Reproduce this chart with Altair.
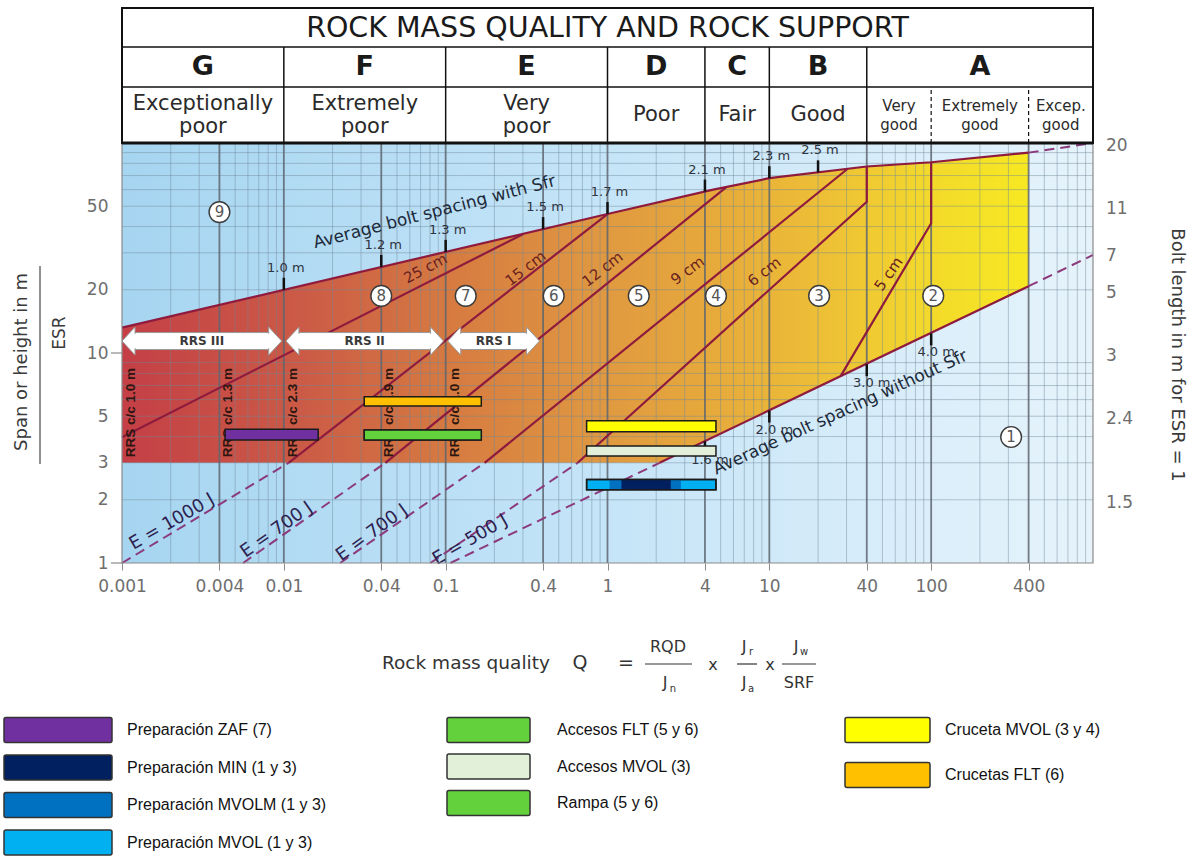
import math
import altair as alt
import pandas as pd

# Q-system rock support chart: span / ESR against rock mass quality Q,
# with the excavation types of the mine drawn as bars on top.

FONT = "DejaVu Sans"
LEGEND_FONT = "Liberation Sans Narrow, Liberation Sans, Arial, sans-serif"

# ---------------- data ----------------
# rock mass classes along Q
class_letters = ["G", "F", "E", "D", "C", "B", "A"]
class_from = [0.001, 0.01, 0.1, 1, 4, 10, 40]
class_to = [0.01, 0.1, 1, 4, 10, 40, 1000]
class_desc = ["Exceptionally\npoor", "Extremely\npoor", "Very\npoor", "Poor", "Fair", "Good"]
a_desc = ["Very\ngood", "Extremely\ngood", "Excep.\ngood"]
a_from = [40, 100, 400]
a_to = [100, 400, 1000]

q_ticks = [0.001, 0.004, 0.01, 0.04, 0.1, 0.4, 1, 4, 10, 40, 100, 400]
span_ticks = [1, 2, 3, 5, 10, 20, 50]
span_marks = [1, 10]
bolt_span = [2, 5, 10, 20, 30, 50, 100]
bolt_length = ["1.5", "2.4", "3", "5", "7", "11", "20"]
class_lines = [0.004, 0.01, 0.04, 0.1, 0.4, 1, 4, 10, 40, 100, 400]

# average bolt spacing with Sfr (upper limit of the support zones)
with_sfr_q = [0.001, 1, 4.5, 10, 40, 100, 400]
with_sfr_s = [13.2, 45.9, 60, 68, 77.3, 81, 90]
with_sfr_ext_q = [400, 1000]
with_sfr_ext_s = [90, 100]
# average bolt spacing without Sfr (lower limit)
without_q = [2.1, 400]
without_s = [3, 20.8]
without_ext_q = [400, 1000]
without_ext_s = [20.8, 29.3]
without_low_q = [0.107, 2.1]
without_low_s = [1, 3]
# sprayed concrete thickness lines
sc25_q = [0.001, 0.3]
sc25_s = [3.97, 36.8]
sc15_q = [0.0107, 1]
sc15_s = [3, 45.9]
sc12_q = [0.0424, 5.4]
sc12_s = [3, 61.5]
sc9_q = [0.174, 30.5]
sc9_s = [3, 75.4]
sc6_q = [0.654, 40, 40]
sc6_s = [3, 52.5, 77.3]
sc5_q = [27.7, 100, 100]
sc5_s = [7.8, 41.5, 81]
# energy absorption lines (below span 3)
e1000_q = [0.001, 0.0107]
e1000_s = [1, 3]
e700a_q = [0.0056, 0.0424]
e700a_s = [1, 3]
e700b_q = [0.0223, 0.174]
e700b_s = [1, 3]
e500_q = [0.0805, 0.654]
e500_s = [1, 3]

# bolt spacing marks on both limit lines
top_tick_q = [0.01, 0.04, 0.1, 0.4, 1, 4, 10, 20]
top_tick_s = [20.0, 25.7, 30.3, 38.9, 45.9, 58.7, 68, 72.5]
top_tick_txt = ["1.0 m", "1.2 m", "1.3 m", "1.5 m", "1.7 m", "2.1 m", "2.3 m", "2.5 m"]
low_tick_q = [4, 10, 40, 100]
low_tick_s = [3.8, 5.32, 8.85, 12.4]
low_tick_txt = ["1.6 m", "2.0 m", "3.0 m", "4.0 m"]

# line labels
sc_txt = ["25 cm", "15 cm", "12 cm", "9 cm", "6 cm", "5 cm"]
sc_q = [0.075, 0.312, 0.931, 3.13, 9.31, 54.5]
sc_s = [25.3, 25.3, 25.1, 24.7, 24.4, 23.8]
sc_ang = [332, 322, 322, 324, 322, 305]
e_txt = ["E = 1000 J", "E = 700 J", "E = 700 J", "E = 500 J"]
e_q = [0.00204, 0.00904, 0.0351, 0.142]
e_s = [1.567, 1.436, 1.389, 1.286]
e_ang = [330, 325, 324, 330]
bolt_txt = ["Average bolt spacing with Sfr", "Average bolt spacing without Sfr"]
bolt_q = [0.0853, 27.5]
bolt_s = [46.8, 5.2]
bolt_ang = [345.5, 335.5]

# reinforced ribs of sprayed concrete
rrs_label = ["RRS III", "RRS II", "RRS I"]
rrs_from = [0.001, 0.0103, 0.103]
rrs_to = [0.0097, 0.097, 0.38]
rrs_span = 11.4
rrs_cc_txt = ["RRS c/c 1.0 m", "RRS c/c 1.3 m", "RRS c/c 2.3 m", "RRS c/c 1.9 m", "RRS c/c 1.0 m"]
rrs_cc_q = [0.00114, 0.00452, 0.0114, 0.0446, 0.114]
rrs_cc_s = 5.2

# support categories
zone_no = ["9", "8", "7", "6", "5", "4", "3", "2", "1"]
zone_q = [0.004, 0.04, 0.133, 0.465, 1.56, 4.68, 20.3, 103, 312]
zone_s = [46.9, 18.7, 18.7, 18.7, 18.7, 18.7, 18.7, 18.7, 3.98]

# excavation types
leg_labels = ["Preparación ZAF (7)", "Preparación MIN (1 y 3)", "Preparación MVOLM (1 y 3)",
              "Preparación MVOL (1 y 3)", "Accesos FLT (5 y 6)", "Accesos MVOL (3)",
              "Rampa (5 y 6)", "Cruceta MVOL (3 y 4)", "Crucetas FLT (6)"]
leg_colors = ["#7030A0", "#002060", "#0070C0", "#00B0F0", "#62D13C", "#E2F0D9",
              "#62D13C", "#FFFF00", "#FFC000"]
leg_column = [0, 0, 0, 0, 1, 1, 1, 2, 2]

bar_name = ["Preparación ZAF (7)", "Crucetas FLT (6)", "Accesos FLT (5 y 6)", "Rampa (5 y 6)",
            "Cruceta MVOL (3 y 4)", "Accesos MVOL (3)", "Preparación MVOL (1 y 3)",
            "Preparación MVOLM (1 y 3)", "Preparación MIN (1 y 3)"]
bar_q0 = [0.00434, 0.0314, 0.0314, 0.0314, 0.743, 0.743, 0.743, 1.03, 1.22]
bar_q1 = [0.0163, 0.166, 0.166, 0.166, 4.68, 4.68, 4.68, 2.84, 2.46]
bar_s0 = [3.85, 5.59, 3.85, 3.85, 4.22, 3.23, 2.23, 2.23, 2.23]
bar_s1 = [4.33, 6.19, 4.30, 4.30, 4.76, 3.61, 2.50, 2.50, 2.50]
bar_outlined = [1, 1, 1, 1, 1, 1, 1, 0, 0]

# ---------------- layout ----------------
W, H = 971, 555
S_TOP = 100                      # upper edge of the diagram
HEAD_EDGES = [S_TOP, 184.8, 286.5, 439.5]   # header rows, continuing the log scale
Q_MIN, Q_MAX = 0.001, 1000
MAROON = "#8e1b3e"
DASH = "#8b3a7c"


def gmean(a, b):
    return math.sqrt(a * b)


xs = alt.Scale(type="log", domain=[Q_MIN, Q_MAX], nice=False)
ys = alt.Scale(type="log", domain=[1, HEAD_EDGES[-1]], nice=False)
x_axis = alt.Axis(values=q_ticks, format="~g", title=None, grid=False, domain=False,
                  ticks=True, tickSize=7, tickColor="#8c8c8c", labelFont=FONT,
                  labelFontSize=17, labelColor="#6e6e6e", labelFlush=False,
                  labelOverlap=False, labelPadding=8)
y_axis = alt.Axis(values=span_ticks, format="~g", title=None, grid=False, domain=False,
                  ticks=False, labelFont=FONT, labelFontSize=17, labelColor="#6e6e6e",
                  labelPadding=14, labelOverlap=False)


def X(f="q"):
    return alt.X(f"{f}:Q", scale=xs, axis=x_axis)


def Y(f="s"):
    return alt.Y(f"{f}:Q", scale=ys, axis=y_axis, stack=False)


def grad(stops):
    return {"gradient": "linear", "x1": 0, "x2": 1, "y1": 0, "y2": 0,
            "stops": [{"offset": o, "color": c} for o, c in stops]}


blue = grad([(0, "#a6d5f1"), (0.45, "#c2e3f7"), (1, "#e6f3fb")])
warm = grad([(0, "#c43f46"), (0.2, "#cb5b46"), (0.36, "#d67a41"), (0.52, "#df9741"),
             (0.66, "#e7ab3b"), (0.79, "#eec235"), (0.89, "#f3d92b"), (1, "#f7e822")])


def poly(pairs):
    rows = []
    for name, qs, ss in pairs:
        for k, (q, s) in enumerate(zip(qs, ss)):
            rows.append({"line": name, "k": k, "q": q, "s": s})
    return pd.DataFrame(rows)


# background and zones
bg = alt.Chart(pd.DataFrame({"q": [Q_MIN], "q2": [Q_MAX], "s": [1], "s2": [S_TOP]})).mark_rect(
    fill=blue, opacity=1).encode(x=X(), x2=alt.X2("q2"), y=Y(), y2=alt.Y2("s2"))

zone_area = alt.Chart(pd.DataFrame({"q": with_sfr_q, "s": with_sfr_s, "base": 1})).mark_area(
    fill=warm, opacity=1).encode(x=X(), y=Y(), y2=alt.Y2("base"))

low_q = [Q_MIN] + without_q + without_ext_q[1:]
low_s = [without_s[0]] + without_s + without_ext_s[1:]
low_area = alt.Chart(pd.DataFrame({"q": low_q, "s": low_s, "base": 1})).mark_area(
    fill=blue, opacity=1).encode(x=X(), y=Y(), y2=alt.Y2("base"))

# grid
minor_q = [float(f"{m}e{e}") for e in range(-3, 3) for m in range(2, 10)]
minor_q = [q for q in minor_q if all(abs(q / c - 1) > 1e-6 for c in class_lines)]
minor_s = [float(f"{m}e{e}") for e in range(0, 2) for m in range(2, 10)]
vgrid = alt.Chart(pd.DataFrame({"q": minor_q, "s": 1, "s2": S_TOP})).mark_rule(
    color="#6f8798", strokeWidth=0.9, opacity=0.5).encode(x=X(), y=Y(), y2=alt.Y2("s2"))
hgrid = alt.Chart(pd.DataFrame({"s": minor_s, "q": Q_MIN, "q2": Q_MAX})).mark_rule(
    color="#6f8798", strokeWidth=0.9, opacity=0.5).encode(x=X(), x2=alt.X2("q2"), y=Y())
cgrid = alt.Chart(pd.DataFrame({"q": class_lines, "s": 1, "s2": S_TOP})).mark_rule(
    color="#5d6670", strokeWidth=1.8, opacity=0.85).encode(x=X(), y=Y(), y2=alt.Y2("s2"))

# limit and thickness lines
solid = poly([("with", with_sfr_q, with_sfr_s), ("without", without_q, without_s),
              ("25", sc25_q, sc25_s), ("15", sc15_q, sc15_s), ("12", sc12_q, sc12_s),
              ("9", sc9_q, sc9_s), ("6", sc6_q, sc6_s), ("5", sc5_q, sc5_s)])
dashed = poly([("with_ext", with_sfr_ext_q, with_sfr_ext_s),
               ("without_ext", without_ext_q, without_ext_s),
               ("without_low", without_low_q, without_low_s),
               ("e1000", e1000_q, e1000_s), ("e700a", e700a_q, e700a_s),
               ("e700b", e700b_q, e700b_s), ("e500", e500_q, e500_s)])
solid_lines = alt.Chart(solid).mark_line(color=MAROON, strokeWidth=2.2).encode(
    x=X(), y=Y(), detail="line:N", order="k:Q")
dashed_lines = alt.Chart(dashed).mark_line(color=DASH, strokeWidth=2, strokeDash=[10, 6]).encode(
    x=X(), y=Y(), detail="line:N", order="k:Q")

TICK = 10 ** (12 / 210)
top_ticks_df = pd.DataFrame({"q": top_tick_q, "s": top_tick_s, "t": top_tick_txt})
top_ticks_df["s2"] = top_ticks_df["s"] * TICK
low_ticks_df = pd.DataFrame({"q": low_tick_q, "s": low_tick_s, "t": low_tick_txt})
low_ticks_df["s2"] = low_ticks_df["s"] / TICK
top_ticks = alt.Chart(top_ticks_df).mark_rule(color="#111", strokeWidth=2.5).encode(
    x=X(), y=Y(), y2=alt.Y2("s2"))
low_ticks = alt.Chart(low_ticks_df).mark_rule(color="#111", strokeWidth=2.5).encode(
    x=X(), y=Y(), y2=alt.Y2("s2"))
top_tick_lbl = alt.Chart(top_ticks_df).mark_text(
    font=FONT, fontSize=13, color="#2e3440", dy=-22, dx=2).encode(x=X(), y=Y(), text="t:N")
low_tick_lbl = alt.Chart(low_ticks_df).mark_text(
    font=FONT, fontSize=13, color="#2e3440", dy=19, dx=5).encode(x=X(), y=Y(), text="t:N")


def rotated(txt, qs, ss, angs, size, color, weight="normal"):
    df = pd.DataFrame({"t": txt, "q": qs, "s": ss, "ang": angs})
    return alt.Chart(df).mark_text(font=FONT, fontSize=size, color=color, fontWeight=weight).encode(
        x=X(), y=Y(), text="t:N", angle=alt.Angle("ang:Q", scale=None))


sc_lbl = rotated(sc_txt, sc_q, sc_s, sc_ang, 15, "#6b1f1f")
e_lbl = rotated(e_txt, e_q, e_s, e_ang, 18, "#2d2250")
bolt_lbl = rotated(bolt_txt, bolt_q, bolt_s, bolt_ang, 17, "#1d2a3a")

# RRS double arrows: a shaft between two arrow heads
HL = 10 ** (13 / 161.6)      # head length along Q
HB = 10 ** (8.5 / 210)       # half shaft height along span
EDGE = 10 ** (1.2 / 210)
NUDGE = 10 ** (1.5 / 161.6)
ARROW_GREY = "#9a9a9a"
shaft_df = pd.DataFrame({"q": [a * HL for a in rrs_from], "q2": [b / HL for b in rrs_to],
                         "s": rrs_span / HB, "s2": rrs_span * HB})
shafts = alt.Chart(shaft_df).mark_rect(fill="white", stroke=ARROW_GREY, strokeWidth=1).encode(
    x=X(), x2=alt.X2("q2"), y=Y(), y2=alt.Y2("s2"))
heads_left = alt.Chart(pd.DataFrame({"q": [a * HL for a in rrs_from], "s": rrs_span})).mark_point(
    shape="M 0 -1 L -0.93 0 L 0 1 Z", size=784, filled=True, fill="white",
    stroke=ARROW_GREY, strokeWidth=1, opacity=1).encode(x=X(), y=Y())
heads_right = alt.Chart(pd.DataFrame({"q": [b / HL for b in rrs_to], "s": rrs_span})).mark_point(
    shape="M 0 -1 L 0.93 0 L 0 1 Z", size=784, filled=True, fill="white",
    stroke=ARROW_GREY, strokeWidth=1, opacity=1).encode(x=X(), y=Y())
shaft_fill = alt.Chart(pd.DataFrame({
    "q": [a * HL / NUDGE for a in rrs_from], "q2": [b / HL * NUDGE for b in rrs_to],
    "s": rrs_span / HB * EDGE, "s2": rrs_span * HB / EDGE})).mark_rect(fill="white").encode(
    x=X(), x2=alt.X2("q2"), y=Y(), y2=alt.Y2("s2"))
arrow_lbl = alt.Chart(pd.DataFrame({
    "t": rrs_label, "q": [gmean(a, b) for a, b in zip(rrs_from, rrs_to)], "s": rrs_span})).mark_text(
    font=FONT, fontSize=12, fontWeight="bold", color="#3a3a3a").encode(x=X(), y=Y(), text="t:N")
rrs_cc = alt.Chart(pd.DataFrame({"t": rrs_cc_txt, "q": rrs_cc_q, "s": rrs_cc_s})).mark_text(
    font="Liberation Sans", fontSize=13.5, fontWeight="bold", color="#2e1610", angle=270).encode(
    x=X(), y=Y(), text="t:N")

# excavation bars
color_of = dict(zip(leg_labels, leg_colors))
bars_df = pd.DataFrame({"name": bar_name, "q": bar_q0, "q2": bar_q1, "s": bar_s0, "s2": bar_s1,
                        "outlined": bar_outlined})
bars_df["color"] = bars_df["name"].map(color_of)
bars = alt.Chart(bars_df).mark_rect(stroke="#1b1b1b", strokeWidth=1.5).encode(
    x=X(), x2=alt.X2("q2"), y=Y(), y2=alt.Y2("s2"),
    fill=alt.Fill("color:N", scale=None),
    strokeOpacity=alt.StrokeOpacity("outlined:Q", scale=None))
bar_outline = alt.Chart(bars_df[bars_df["name"] == "Preparación MVOL (1 y 3)"]).mark_rect(
    fillOpacity=0, stroke="#1b1b1b", strokeWidth=1.5).encode(
    x=X(), x2=alt.X2("q2"), y=Y(), y2=alt.Y2("s2"))

# support category markers
zones_df = pd.DataFrame({"t": zone_no, "q": zone_q, "s": zone_s})
zone_dots = alt.Chart(zones_df).mark_point(
    shape="circle", filled=True, fill="white", stroke="#3a3a3a", strokeWidth=1.4,
    size=430, opacity=1).encode(x=X(), y=Y())
zone_txt = alt.Chart(zones_df).mark_text(font=FONT, fontSize=15, color="#555").encode(
    x=X(), y=Y(), text="t:N")

frame = alt.Chart(pd.DataFrame({"q": [Q_MIN], "q2": [Q_MAX], "s": [1], "s2": [S_TOP]})).mark_rect(
    fillOpacity=0, stroke="#8a8a8a", strokeWidth=1.2).encode(
    x=X(), x2=alt.X2("q2"), y=Y(), y2=alt.Y2("s2"))

# short marks at 1 and 10 on the span scale
span_mark = alt.Chart(pd.DataFrame({"s": span_marks})).mark_rule(
    color="#8a8a8a", strokeWidth=1.2).encode(x=alt.value(-11), x2=alt.value(0), y=Y())

# header table
centres = [gmean(a, b) for a, b in zip(class_from, class_to)]
desc_s = gmean(HEAD_EDGES[0], HEAD_EDGES[1])
head_box = alt.Chart(pd.DataFrame({"q": [Q_MIN], "q2": [Q_MAX], "s": [S_TOP],
                                   "s2": [HEAD_EDGES[-1]]})).mark_rect(
    fill="white", stroke="#111", strokeWidth=2).encode(x=X(), x2=alt.X2("q2"), y=Y(), y2=alt.Y2("s2"))
head_rows = alt.Chart(pd.DataFrame({"s": HEAD_EDGES[1:3], "q": Q_MIN, "q2": Q_MAX})).mark_rule(
    color="#111", strokeWidth=1.5).encode(x=X(), x2=alt.X2("q2"), y=Y())
head_base = alt.Chart(pd.DataFrame({"s": [S_TOP], "q": Q_MIN, "q2": Q_MAX})).mark_rule(
    color="#111", strokeWidth=3).encode(x=X(), x2=alt.X2("q2"), y=Y())
head_cols = alt.Chart(pd.DataFrame({"q": class_from[1:], "s": S_TOP, "s2": HEAD_EDGES[2]})).mark_rule(
    color="#111", strokeWidth=1.5).encode(x=X(), y=Y(), y2=alt.Y2("s2"))
head_sub = alt.Chart(pd.DataFrame({"q": a_from[1:], "s": S_TOP, "s2": HEAD_EDGES[1]})).mark_rule(
    color="#111", strokeWidth=1.2, strokeDash=[4, 3]).encode(x=X(), y=Y(), y2=alt.Y2("s2"))
title_txt = alt.Chart(pd.DataFrame({"t": ["ROCK MASS QUALITY AND ROCK SUPPORT"],
                                    "q": [gmean(Q_MIN, Q_MAX)],
                                    "s": [gmean(HEAD_EDGES[2], HEAD_EDGES[3])]})).mark_text(
    font=FONT, fontSize=28.5, color="#1a1a1a").encode(x=X(), y=Y(), text="t:N")
letters = alt.Chart(pd.DataFrame({"t": class_letters, "q": centres,
                                  "s": gmean(HEAD_EDGES[1], HEAD_EDGES[2])})).mark_text(
    font=FONT, fontSize=27, fontWeight="bold", color="#1a1a1a").encode(x=X(), y=Y(), text="t:N")
desc_df = pd.DataFrame({"t": class_desc, "q": centres[:6], "s": desc_s})
desc_df["two"] = desc_df["t"].str.contains("\n")
descs2 = alt.Chart(desc_df[desc_df["two"]]).mark_text(
    font=FONT, fontSize=21, color="#2a2a2a", lineBreak="\n", lineHeight=23, dy=-11).encode(
    x=X(), y=Y(), text="t:N")
descs1 = alt.Chart(desc_df[~desc_df["two"]]).mark_text(
    font=FONT, fontSize=21, color="#2a2a2a").encode(x=X(), y=Y(), text="t:N")
a_descs = alt.Chart(pd.DataFrame({"t": a_desc, "q": [gmean(a, b) for a, b in zip(a_from, a_to)],
                                  "s": desc_s})).mark_text(
    font=FONT, fontSize=15, color="#2a2a2a", lineBreak="\n", lineHeight=19, dy=-9).encode(
    x=X(), y=Y(), text="t:N")

# right hand scale: bolt length for ESR = 1
bolt_axis = alt.Chart(pd.DataFrame({"s": bolt_span, "t": bolt_length, "q": Q_MAX})).mark_text(
    font=FONT, fontSize=17, color="#6e6e6e", align="left", dx=13, dy=3).encode(
    x=X(), y=Y(), text="t:N")
right_title = alt.Chart(pd.DataFrame({"t": ["Bolt length in m for ESR = 1"]})).mark_text(
    font=FONT, fontSize=18, color="#3a3a3a", angle=90).encode(
    x=alt.value(1055), y=alt.value(347), text="t:N")
left_title = alt.Chart(pd.DataFrame({"t": ["Span or height in m"]})).mark_text(
    font=FONT, fontSize=18, color="#3a3a3a", angle=270).encode(
    x=alt.value(-100), y=alt.value(354), text="t:N")
left_esr = alt.Chart(pd.DataFrame({"t": ["ESR"]})).mark_text(
    font=FONT, fontSize=17, color="#3a3a3a", angle=270).encode(
    x=alt.value(-62), y=alt.value(325), text="t:N")
left_bar = alt.Chart(pd.DataFrame({"t": ["bar"]})).mark_rule(color="#555", strokeWidth=1.3).encode(
    x=alt.value(-82), y=alt.value(258), y2=alt.value(456))

main = alt.layer(
    bg, zone_area, low_area, vgrid, hgrid, cgrid, solid_lines, dashed_lines,
    top_ticks, low_ticks, top_tick_lbl, low_tick_lbl, sc_lbl, e_lbl, bolt_lbl,
    shafts, heads_left, heads_right, shaft_fill, arrow_lbl, rrs_cc, bars, bar_outline,
    zone_dots, zone_txt, frame, span_mark,
    head_box, head_rows, head_cols, head_sub, head_base, title_txt, letters, descs2, descs1,
    a_descs, bolt_axis, right_title, left_title, left_esr, left_bar,
).properties(width=W, height=H)

# ---------------- formula and legend ----------------
bx = alt.Scale(domain=[122, 1093], nice=False, zero=False)
by = alt.Scale(domain=[600, 859], nice=False, zero=False, reverse=True)


def BX(f):
    return alt.X(f"{f}:Q", scale=bx, axis=None)


def BY(f):
    return alt.Y(f"{f}:Q", scale=by, axis=None)


col_left = [4, 447, 845]
col_width = [108, 83, 85]
col_text = [127, 557, 945]
col_top = [730, 730, 730]
col_step = [37.5, 36.5, 45]
SW_H = 25
rows = []
row_in_col = [0, 0, 0]
for lab, colr, c in zip(leg_labels, leg_colors, leg_column):
    yc = col_top[c] + col_step[c] * row_in_col[c]
    row_in_col[c] += 1
    rows.append({"t": lab, "color": colr, "x0": col_left[c], "x1": col_left[c] + col_width[c],
                 "y0": yc - SW_H / 2, "y1": yc + SW_H / 2, "xt": col_text[c], "yc": yc})
leg = pd.DataFrame(rows)
swatches = alt.Chart(leg).mark_rect(stroke="#333", strokeWidth=1.5, cornerRadius=2).encode(
    x=BX("x0"), x2=alt.X2("x1"), y=BY("y0"), y2=alt.Y2("y1"), fill=alt.Fill("color:N", scale=None))
leg_txt = alt.Chart(leg).mark_text(font=LEGEND_FONT, fontSize=16, color="#111", align="left").encode(
    x=BX("xt"), y=BY("yc"), text="t:N")

# Q = RQD/Jn x Jr/Ja x Jw/SRF
f_txt = pd.DataFrame([
    {"t": "Rock mass quality", "x": 382, "y": 663, "size": 18.5, "al": "left"},
    {"t": "Q", "x": 580, "y": 663, "size": 19, "al": "center"},
    {"t": "=", "x": 626, "y": 663, "size": 19, "al": "center"},
    {"t": "RQD", "x": 668, "y": 647, "size": 16, "al": "center"},
    {"t": "J", "x": 665, "y": 683, "size": 16, "al": "center"},
    {"t": "x", "x": 713, "y": 665, "size": 16, "al": "center"},
    {"t": "J", "x": 744, "y": 647, "size": 16, "al": "center"},
    {"t": "J", "x": 744, "y": 683, "size": 16, "al": "center"},
    {"t": "x", "x": 770, "y": 665, "size": 16, "al": "center"},
    {"t": "J", "x": 796, "y": 647, "size": 16, "al": "center"},
    {"t": "SRF", "x": 799, "y": 683, "size": 16, "al": "center"},
    {"t": "n", "x": 673, "y": 689, "size": 10, "al": "center"},
    {"t": "r", "x": 751, "y": 652, "size": 10, "al": "center"},
    {"t": "a", "x": 751, "y": 689, "size": 10, "al": "center"},
    {"t": "w", "x": 804, "y": 652, "size": 10, "al": "center"},
])
formula_parts = []
for al in ["left", "center"]:
    sub = f_txt[f_txt["al"] == al]
    formula_parts.append(alt.Chart(sub).mark_text(font=FONT, color="#333", align=al).encode(
        x=BX("x"), y=BY("y"), text="t:N", size=alt.Size("size:Q", scale=None)))
f_bars = alt.Chart(pd.DataFrame({"x": [645, 737, 782], "x2": [692, 757, 816], "y": 664})).mark_rule(
    color="#333", strokeWidth=1.2).encode(x=BX("x"), x2=alt.X2("x2"), y=BY("y"))

bottom = alt.layer(f_bars, *formula_parts, swatches, leg_txt).properties(width=W, height=259)

chart = alt.vconcat(main, bottom, spacing=37, bounds="flush").configure_view(
    strokeWidth=0).properties(
    padding={"left": 3, "top": 7, "right": 4, "bottom": 0}, background="white")

chart.save("out.html", embed_options={"renderer": "svg", "actions": False})
